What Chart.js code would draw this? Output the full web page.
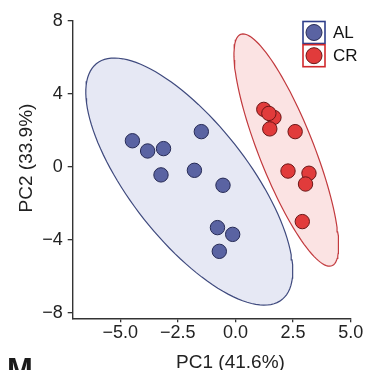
<!DOCTYPE html>
<html>
<head>
<meta charset="utf-8">
<title>PCA AL vs CR</title>
<script src="https://cdn.jsdelivr.net/npm/chart.js@4.4.1/dist/chart.umd.min.js"></script>
<style>
  body { margin: 0; background: #fff; }
  #wrap { width: 374px; height: 370px; }
</style>
</head>
<body>
<div id="wrap"><canvas id="pca" width="374" height="370"></canvas></div>
<script>
const groups = ['AL', 'CR'];
const alPC1 = [-4.47, -3.81, -3.12, -3.23, -1.48, -1.78, -0.54, -0.78, -0.12, -0.70];
const alPC2 = [1.42, 0.86, 0.99, -0.45, 1.92, -0.20, -1.02, -3.34, -3.71, -4.64];
const crPC1 = [1.23, 1.67, 1.45, 1.49, 2.59, 2.28, 3.19, 3.04, 2.90];
const crPC2 = [3.14, 2.70, 2.92, 2.07, 1.92, -0.24, -0.36, -0.95, -3.01];
const xTicks = [-5, -2.5, 0, 2.5, 5];
const xTickLabels = ['\u22125.0', '\u22122.5', '0.0', '2.5', '5.0'];
const yTicks = [-8, -4, 0, 4, 8];
const yTickLabels = ['\u22128', '\u22124', '0', '4', '8'];
const axisTitles = ['PC1 (41.6%)', 'PC2 (33.9%)'];
const panelLabel = 'M';

const FONT = "'Liberation Sans', Arial, sans-serif";
const fills = ['#5a63a2', '#e13b3b'];
const edges = ['#262a55', '#6a1616'];
const ellFills = ['rgba(226,228,242,0.85)', 'rgba(250,222,222,0.85)'];
const ellEdges = ['#3f4a7e', '#c23a3e'];

// 95% confidence ellipse from the group's own points (like stat_ellipse)
function confidenceEllipse(xs, ys, level) {
  const n = xs.length;
  const mx = xs.reduce((a, b) => a + b, 0) / n;
  const my = ys.reduce((a, b) => a + b, 0) / n;
  let sxx = 0, syy = 0, sxy = 0;
  for (let i = 0; i < n; i++) {
    sxx += (xs[i] - mx) ** 2;
    syy += (ys[i] - my) ** 2;
    sxy += (xs[i] - mx) * (ys[i] - my);
  }
  sxx /= n - 1; syy /= n - 1; sxy /= n - 1;
  const tr = sxx + syy, det = sxx * syy - sxy * sxy;
  const disc = Math.sqrt(tr * tr / 4 - det);
  const l1 = tr / 2 + disc, l2 = tr / 2 - disc;
  const ang = Math.atan2(l1 - sxx, sxy);
  const df = n - 1;
  const f = df / 2 * (Math.pow(1 - level, -2 / df) - 1);
  const r = Math.sqrt(2 * f);
  const a = r * Math.sqrt(l1), b = r * Math.sqrt(l2);
  const pts = [];
  for (let i = 0; i <= 120; i++) {
    const t = i / 120 * 2 * Math.PI;
    const u = a * Math.cos(t), v = b * Math.sin(t);
    pts.push({
      x: mx + u * Math.cos(ang) - v * Math.sin(ang),
      y: my + u * Math.sin(ang) + v * Math.cos(ang)
    });
  }
  return pts;
}

const toPoints = (xs, ys) => xs.map((x, i) => ({ x: x, y: ys[i] }));

const pointSets = [toPoints(alPC1, alPC2), toPoints(crPC1, crPC2)];
const ellipses = [confidenceEllipse(alPC1, alPC2, 0.95), confidenceEllipse(crPC1, crPC2, 0.95)];

const datasets = [];
groups.forEach((g, i) => {
  datasets.push({
    label: g,
    data: pointSets[i],
    order: 0,
    backgroundColor: fills[i],
    borderColor: edges[i],
    borderWidth: 1,
    pointRadius: 7.2,
    pointHoverRadius: 7.2
  });
});
groups.forEach((g, i) => {
  datasets.push({
    type: 'line',
    label: g + ' ellipse',
    data: ellipses[i],
    order: 1,
    showLine: true,
    fill: 'shape',
    tension: 0,
    backgroundColor: ellFills[i],
    borderColor: ellEdges[i],
    borderWidth: 1.2,
    pointRadius: 0
  });
});

// legend boxes, axis titles and panel letter
const extras = {
  id: 'extras',
  afterDraw(chart) {
    const ctx = chart.ctx;
    const area = chart.chartArea;
    ctx.save();
    groups.forEach((g, i) => {
      const bx = 303, by = 21.5 + i * 23.2, s = 22;
      ctx.fillStyle = '#fff';
      ctx.fillRect(bx, by, s, s);
      ctx.strokeStyle = i === 0 ? '#2f3f8a' : '#d0282c';
      ctx.lineWidth = 1.6;
      ctx.strokeRect(bx, by, s, s);
      ctx.beginPath();
      ctx.arc(bx + s / 2, by + s / 2, 8, 0, Math.PI * 2);
      ctx.fillStyle = fills[i];
      ctx.fill();
      ctx.strokeStyle = edges[i];
      ctx.lineWidth = 1;
      ctx.stroke();
      ctx.fillStyle = '#111';
      ctx.font = '17px ' + FONT;
      ctx.textAlign = 'left';
      ctx.textBaseline = 'middle';
      ctx.fillText(g, 333, by + s / 2 + 1);
    });

    ctx.fillStyle = '#222';
    ctx.font = '19px ' + FONT;
    ctx.textAlign = 'center';
    ctx.textBaseline = 'middle';
    ctx.fillText(axisTitles[0], 230.5, 363);
    ctx.save();
    ctx.translate(27, 158);
    ctx.rotate(-Math.PI / 2);
    ctx.fillText(axisTitles[1], 0, 0);
    ctx.restore();

    ctx.fillStyle = '#1a1a1a';
    ctx.font = 'bold 31px ' + FONT;
    ctx.textAlign = 'left';
    ctx.textBaseline = 'alphabetic';
    ctx.fillText(panelLabel, 7, 380);
    ctx.restore();
  }
};

new Chart(document.getElementById('pca'), {
  type: 'scatter',
  data: { datasets: datasets },
  options: {
    responsive: false,
    animation: false,
    devicePixelRatio: 1,
    layout: { padding: { top: 20.7, right: 23.3, left: 0, bottom: 0 } },
    plugins: {
      legend: { display: false },
      tooltip: { enabled: false }
    },
    scales: {
      x: {
        type: 'linear',
        min: -7.06,
        max: 5,
        afterBuildTicks: s => { s.ticks = xTicks.map(v => ({ value: v })); },
        afterFit: s => { s.height = 51.7; },
        ticks: {
          padding: 0,
          color: '#222',
          font: { family: FONT, size: 18 },
          callback: v => xTickLabels[xTicks.indexOf(v)]
        },
        grid: { display: true, drawOnChartArea: false, drawTicks: true, tickLength: 4, color: '#333', lineWidth: 1.3 },
        border: { display: true, color: '#333', width: 1.4 }
      },
      y: {
        type: 'linear',
        min: -8.31,
        max: 8,
        afterBuildTicks: s => { s.ticks = yTicks.map(v => ({ value: v })); },
        afterFit: s => { s.width = 72.7; },
        ticks: {
          padding: 5,
          color: '#222',
          font: { family: FONT, size: 18 },
          callback: v => yTickLabels[yTicks.indexOf(v)]
        },
        grid: { display: true, drawOnChartArea: false, drawTicks: true, tickLength: 5, color: '#333', lineWidth: 1.3 },
        border: { display: true, color: '#333', width: 1.4 }
      }
    }
  },
  plugins: [extras]
});
</script>
</body>
</html>
